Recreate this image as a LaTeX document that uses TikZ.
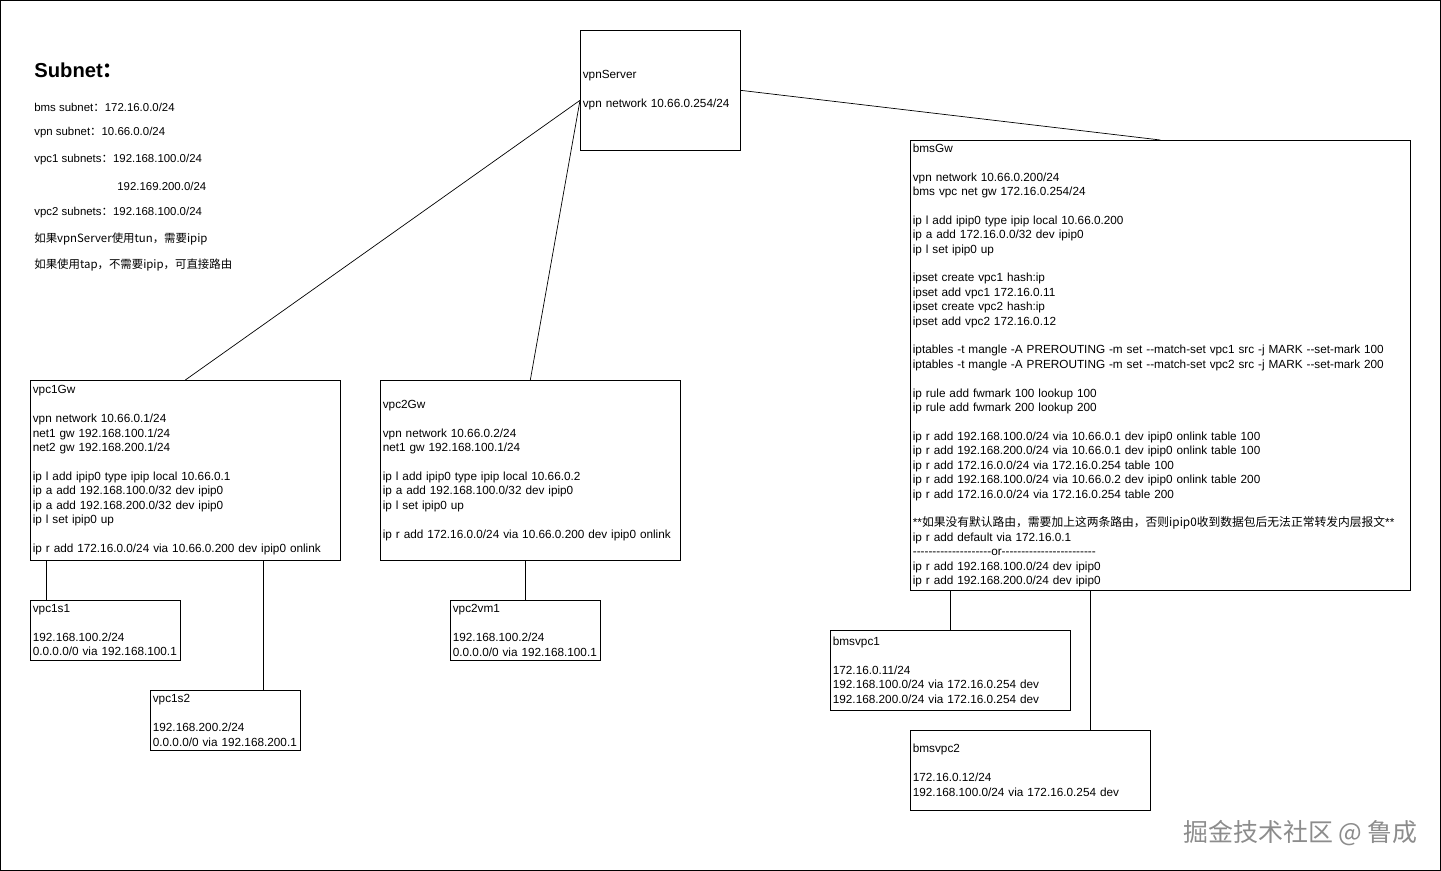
\documentclass[tikz,border=0pt]{standalone}
\usepackage{fontspec}
\setmainfont{Liberation Sans}[Ligatures=TeXOff]
\newfontfamily\cjk{Noto Sans CJK SC}
\usetikzlibrary{positioning}
\tikzset{
  box/.style={draw, rectangle, inner sep=1pt, align=left, anchor=north west,
    font=\fontsize{6.7}{8.2}\selectfont},
  note/.style={anchor=west, inner sep=0pt, font=\fontsize{6.5}{8}\selectfont},
  link/.style={draw, line width=0.4pt}
}
\begin{document}
\begin{tikzpicture}[x=0.02cm,y=-0.02cm]
\useasboundingbox (0,0) rectangle (1441,871);
\draw[line width=0.4pt] (0.5,0.5) rectangle (1440.5,870.5);
% legend
\node[note, font=\bfseries\fontsize{11.5}{13}\selectfont] (title) at (34,70) {Subnet{\cjk ：}};
\node[note] (l1) at (34,107) {bms subnet{\cjk ：}172.16.0.0/24};
\node[note] (l2) at (34,133) {vpn subnet{\cjk ：}10.66.0.0/24};
\node[note] (l3) at (34,160) {vpc1 subnets{\cjk ：}192.168.100.0/24};
\node[note] (l4) at (117,186) {192.169.200.0/24};
\node[note] (l5) at (34,213) {vpc2 subnets{\cjk ：}192.168.100.0/24};
\node[note] (l6) at (34,239) {\cjk 如果vpnServer使用tun，需要ipip};
\node[note] (l7) at (34,265) {\cjk 如果使用tap，不需要ipip，可直接路由};
% boxes
\node[box, minimum width=3.2cm, minimum height=2.4cm, text width=3.1cm] (vpnServer) at (580,30)
  {vpnServer\\[8.2pt]vpn network 10.66.0.254/24};
\node[box, minimum width=10cm, minimum height=9cm, text width=9.9cm] (bmsGw) at (910,140)
  {bmsGw\\[8.2pt]vpn network 10.66.0.200/24\\bms vpc net gw 172.16.0.254/24\\[8.2pt]
   ip l add ipip0 type ipip local 10.66.0.200\\ip a add 172.16.0.0/32 dev ipip0\\ip l set ipip0 up\\[8.2pt]
   ipset create vpc1 hash:ip\\ipset add vpc1 172.16.0.11\\ipset create vpc2 hash:ip\\ipset add vpc2 172.16.0.12\\[8.2pt]
   iptables -t mangle -A PREROUTING -m set --match-set vpc1 src -j MARK --set-mark 100\\
   iptables -t mangle -A PREROUTING -m set --match-set vpc2 src -j MARK --set-mark 200\\[8.2pt]
   ip rule add fwmark 100 lookup 100\\ip rule add fwmark 200 lookup 200\\[8.2pt]
   ip r add 192.168.100.0/24 via 10.66.0.1 dev ipip0 onlink table 100\\
   ip r add 192.168.200.0/24 via 10.66.0.1 dev ipip0 onlink table 100\\
   ip r add 172.16.0.0/24 via 172.16.0.254 table 100\\
   ip r add 192.168.100.0/24 via 10.66.0.2 dev ipip0 onlink table 200\\
   ip r add 172.16.0.0/24 via 172.16.0.254 table 200\\[8.2pt]
   **{\cjk 如果没有默认路由，需要加上这两条路由，否则ipip0收到数据包后无法正常转发内层报文}**\\
   ip r add default via 172.16.0.1\\
   --------------------or------------------------\\
   ip r add 192.168.100.0/24 dev ipip0\\ip r add 192.168.200.0/24 dev ipip0};
\node[box, minimum width=6.2cm, minimum height=3.6cm, text width=6.1cm] (vpc1Gw) at (30,380)
  {vpc1Gw\\[8.2pt]vpn network 10.66.0.1/24\\net1 gw 192.168.100.1/24\\net2 gw 192.168.200.1/24\\[8.2pt]
   ip l add ipip0 type ipip local 10.66.0.1\\ip a add 192.168.100.0/32 dev ipip0\\
   ip a add 192.168.200.0/32 dev ipip0\\ip l set ipip0 up\\[8.2pt]
   ip r add 172.16.0.0/24 via 10.66.0.200 dev ipip0 onlink};
\node[box, minimum width=6cm, minimum height=3.6cm, text width=5.9cm] (vpc2Gw) at (380,380)
  {vpc2Gw\\[8.2pt]vpn network 10.66.0.2/24\\net1 gw 192.168.100.1/24\\[8.2pt]
   ip l add ipip0 type ipip local 10.66.0.2\\ip a add 192.168.100.0/32 dev ipip0\\ip l set ipip0 up\\[8.2pt]
   ip r add 172.16.0.0/24 via 10.66.0.200 dev ipip0 onlink};
\node[box, minimum width=3cm, minimum height=1.2cm, text width=2.9cm] (vpc1s1) at (30,600)
  {vpc1s1\\[8.2pt]192.168.100.2/24\\0.0.0.0/0 via 192.168.100.1};
\node[box, minimum width=3cm, minimum height=1.2cm, text width=2.9cm] (vpc1s2) at (150,690)
  {vpc1s2\\[8.2pt]192.168.200.2/24\\0.0.0.0/0 via 192.168.200.1};
\node[box, minimum width=3cm, minimum height=1.2cm, text width=2.9cm] (vpc2vm1) at (450,600)
  {vpc2vm1\\[8.2pt]192.168.100.2/24\\0.0.0.0/0 via 192.168.100.1};
\node[box, minimum width=4.8cm, minimum height=1.6cm, text width=4.7cm] (bmsvpc1) at (830,630)
  {bmsvpc1\\[8.2pt]172.16.0.11/24\\192.168.100.0/24 via 172.16.0.254 dev\\192.168.200.0/24 via 172.16.0.254 dev};
\node[box, minimum width=4.8cm, minimum height=1.6cm, text width=4.7cm] (bmsvpc2) at (910,730)
  {bmsvpc2\\[8.2pt]172.16.0.12/24\\192.168.100.0/24 via 172.16.0.254 dev};
% links
\draw[link] ([yshift=-0.2cm]vpnServer.west) -- (vpc1Gw.north);
\draw[link] ([yshift=-0.2cm]vpnServer.west) -- (vpc2Gw.north);
\draw[link] (vpnServer.east) -- (bmsGw.north);
\draw[link] ([xshift=0.32cm]vpc1s1.north west) -- ([xshift=0.32cm]vpc1s1.north west |- vpc1Gw.south);
\draw[link] ([xshift=2.26cm]vpc1s2.north west) -- ([xshift=2.26cm]vpc1s2.north west |- vpc1Gw.south);
\draw[link] (vpc2vm1.north) -- (vpc2vm1.north |- vpc2Gw.south);
\draw[link] (bmsvpc1.north) -- (bmsvpc1.north |- bmsGw.south);
\draw[link] ([xshift=3.6cm]bmsvpc2.north west) -- ([xshift=3.6cm]bmsvpc2.north west |- bmsGw.south);
% watermark
\node[anchor=east, inner sep=0pt, text=black!45, font=\cjk\fontsize{14.2}{16}\selectfont] (mark) at (1418,833) {掘金技术社区 @ 鲁成};
\end{tikzpicture}
\end{document}
